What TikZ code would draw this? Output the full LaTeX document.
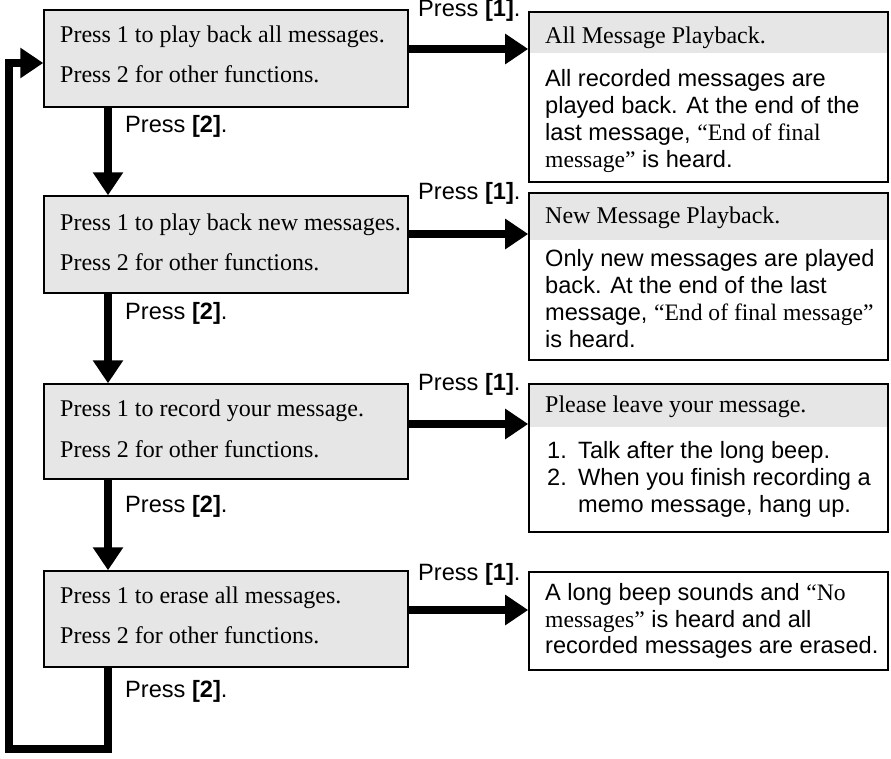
\documentclass[tikz,border=0pt]{standalone}
\usepackage{fontspec}
\setmainfont{Liberation Serif}
\newfontfamily\arialf{Liberation Sans}
\usetikzlibrary{arrows.meta}
\definecolor{boxgray}{HTML}{E6E6E6}
\newcommand\tq[1]{{\rmfamily #1}}
\tikzset{
  lbox/.style={draw, line width=1.4pt, fill=boxgray, minimum width=364pt, inner sep=0pt},
  rbox/.style={draw, line width=1.6pt, minimum width=359pt, inner sep=0pt},
  hband/.style={fill=boxgray},
  ltxt/.style={anchor=base west, inner sep=0pt, font=\fontsize{24}{28}\selectfont},
  rtxt/.style={anchor=base west, inner sep=0pt, font=\arialf\fontsize{23.6}{27}\selectfont},
  plabel/.style={anchor=base west, inner sep=0pt, font=\arialf\fontsize{23.6}{27}\selectfont},
  arr/.style={line width=7.5pt, line join=miter, -{Triangle[length=23pt,width=29pt]}},
}
\begin{document}
\begin{tikzpicture}[x=1pt,y=-1pt]
\useasboundingbox (0,0) rectangle (891,759);

% left boxes
\node[lbox, minimum height=97pt] (b1) at (226,58.5) {};
\node[lbox, minimum height=97pt] (b2) at (226,244.5) {};
\node[lbox, minimum height=95pt] (b3) at (226,431.5) {};
\node[lbox, minimum height=96pt] (b4) at (226,619) {};

\node[ltxt] (b1a) at (60,43) {Press 1 to play back all messages.};
\node[ltxt] (b1b) at (60,83) {Press 2 for other functions.};
\node[ltxt] (b2a) at (60,231) {Press 1 to play back new messages.};
\node[ltxt] (b2b) at (60,270) {Press 2 for other functions.};
\node[ltxt] (b3a) at (60,416) {Press 1 to record your message.};
\node[ltxt] (b3b) at (60,457) {Press 2 for other functions.};
\node[ltxt] (b4a) at (60,603) {Press 1 to erase all messages.};
\node[ltxt] (b4b) at (60,643) {Press 2 for other functions.};

% right boxes: header bands
\fill[hband] (529,12) rectangle (888,53);
\fill[hband] (529,193) rectangle (888,240);
\fill[hband] (529,384) rectangle (888,427);
\node[rbox, minimum height=170pt] (r1) at (708.5,97) {};
\node[rbox, minimum height=167pt] (r2) at (708.5,276.5) {};
\node[rbox, minimum height=148pt] (r3) at (708.5,458) {};
\node[rbox, minimum height=98pt] (r4) at (708.5,621) {};

\node[ltxt] (r1h) at (545,44) {All Message Playback.};
\node[rtxt] (r1a) at (545,87) {All recorded messages are};
\node[rtxt] (r1b) at (545,114) {played back. At the end of the};
\node[rtxt] (r1c) at (545,141) {last message, \tq{“End of final}};
\node[rtxt] (r1d) at (545,168) {\tq{message”} is heard.};

\node[ltxt] (r2h) at (545,224) {New Message Playback.};
\node[rtxt] (r2a) at (545,267) {Only new messages are played};
\node[rtxt] (r2b) at (545,293) {back. At the end of the last};
\node[rtxt] (r2c) at (545,320) {message, \tq{“End of final message”}};
\node[rtxt] (r2d) at (545,347) {is heard.};

\node[ltxt] (r3h) at (545,412) {Please leave your message.};
\node[rtxt] (r3n1) at (547,458) {1.};
\node[rtxt] (r3a) at (578,458) {Talk after the long beep.};
\node[rtxt] (r3n2) at (547,485) {2.};
\node[rtxt] (r3b) at (578,485) {When you finish recording a};
\node[rtxt] (r3c) at (578,512) {memo message, hang up.};

\node[rtxt] (r4a) at (545,600) {A long beep sounds and \tq{“No}};
\node[rtxt] (r4b) at (545,627) {\tq{messages”} is heard and all};
\node[rtxt] (r4c) at (545,653) {recorded messages are erased.};

% labels
\node[plabel] (p1a) at (418,17) {Press \textbf{[1]}.};
\node[plabel] (p1b) at (418,200) {Press \textbf{[1]}.};
\node[plabel] (p1c) at (418,390) {Press \textbf{[1]}.};
\node[plabel] (p1d) at (418,580) {Press \textbf{[1]}.};
\node[plabel] (p2a) at (125,133) {Press \textbf{[2]}.};
\node[plabel] (p2b) at (125,319) {Press \textbf{[2]}.};
\node[plabel] (p2c) at (125,512) {Press \textbf{[2]}.};
\node[plabel] (p2d) at (125,697) {Press \textbf{[2]}.};

% connector helpers
\coordinate (vx) at (108,0);
\coordinate (h1) at (0,49);
\coordinate (h2) at (0,234);
\coordinate (h3) at (0,424);
\coordinate (h4) at (0,610);
\coordinate (l1) at (108,749);
\coordinate (l2) at (9,749);
\coordinate (l3) at (9,63);

% horizontal arrows
\draw[arr] (b1.east |- h1) -- (r1.west |- h1);
\draw[arr] (b2.east |- h2) -- (r2.west |- h2);
\draw[arr] (b3.east |- h3) -- (r3.west |- h3);
\draw[arr] (b4.east |- h4) -- (r4.west |- h4);

% vertical arrows
\draw[arr] (b1.south -| vx) -- (b2.north -| vx);
\draw[arr] (b2.south -| vx) -- (b3.north -| vx);
\draw[arr] (b3.south -| vx) -- (b4.north -| vx);

% loop back
\draw[arr] (b4.south -| vx) -- (l1) -- (l2) -- (l3) -- (b1.west |- l3);
\end{tikzpicture}
\end{document}
